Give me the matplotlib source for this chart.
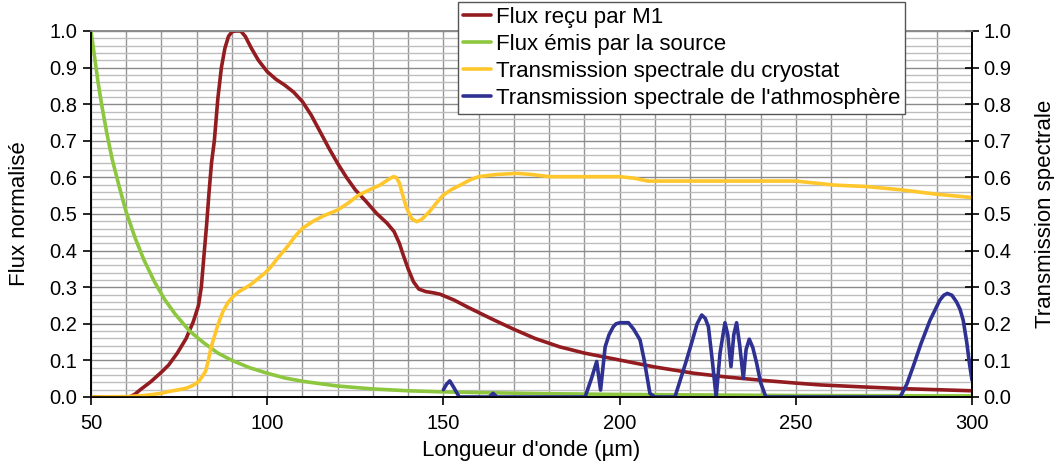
import matplotlib
matplotlib.use('Agg')
import matplotlib.pyplot as plt
from matplotlib.ticker import MultipleLocator

plt.rcParams['font.family'] = ['Liberation Sans', 'DejaVu Sans']

# Flux reçu par M1
red_x = [50, 61, 62.5, 64, 67, 70, 72, 74.5, 77, 79, 80.5, 81.3, 82, 82.8, 83.5, 84.2, 85, 86,
         87, 88, 89, 90, 91, 92.5, 93.8, 95.5, 97.5, 100, 102.5, 105, 107.5, 110, 112.5, 115,
         117.5, 120, 122.5, 125, 128, 131, 134, 136, 137.5, 138.6, 140, 141.5, 143, 145, 147,
         149, 153, 157, 164, 170, 176, 183, 190, 200, 210, 221, 230, 240, 250, 257, 268, 280,
         290, 300]
red_y = [0, 0, 0.008, 0.02, 0.042, 0.068, 0.087, 0.12, 0.16, 0.205, 0.25, 0.3, 0.38, 0.47,
         0.56, 0.64, 0.70, 0.816, 0.9, 0.953, 0.985, 0.998, 1.0, 1.0, 0.985, 0.953, 0.92, 0.889,
         0.868, 0.852, 0.833, 0.807, 0.77, 0.725, 0.68, 0.638, 0.6, 0.566, 0.535, 0.502, 0.475,
         0.452, 0.42, 0.388, 0.35, 0.315, 0.295, 0.288, 0.285, 0.281, 0.265, 0.245, 0.212,
         0.185, 0.16, 0.137, 0.12, 0.101, 0.082, 0.065, 0.055, 0.046, 0.038, 0.033, 0.028,
         0.023, 0.02, 0.017]

# Flux émis par la source
green_x = [50, 51, 52, 53, 54.5, 56, 58, 60, 62.5, 65, 68, 71, 74, 78, 82, 86, 90, 95, 100,
           105, 110, 120, 130, 140, 150, 160, 180, 200, 250, 300]
green_y = [1.0, 0.93, 0.86, 0.8, 0.72, 0.65, 0.575, 0.505, 0.435, 0.375, 0.315, 0.265, 0.225,
           0.18, 0.148, 0.12, 0.10, 0.08, 0.065, 0.052, 0.043, 0.03, 0.022, 0.017, 0.014, 0.012,
           0.009, 0.007, 0.004, 0.003]

# Transmission spectrale du cryostat
yellow_x = [50, 60, 65, 70, 72, 75, 77, 79, 80.5, 81.5, 82.5, 83.3, 84, 85, 86, 87.5, 89, 90.5,
            92, 95, 97.5, 99.5, 101, 103, 105.5, 108, 110, 113, 116, 120, 123, 126, 129, 132,
            134.5, 135.8, 136.6, 137.5, 138.5, 139.6, 141, 142.4, 143.8, 146, 148, 150, 152.5,
            155, 157.5, 160, 165, 171, 175, 180, 200, 204, 208, 228, 250, 255, 261, 270, 280,
            290, 300]
yellow_y = [0, 0.001, 0.004, 0.01, 0.015, 0.02, 0.024, 0.032, 0.042, 0.055, 0.07, 0.1, 0.133,
            0.165, 0.197, 0.235, 0.26, 0.276, 0.288, 0.305, 0.324, 0.34, 0.355, 0.38, 0.408,
            0.44, 0.461, 0.48, 0.495, 0.511, 0.53, 0.552, 0.566, 0.579, 0.595, 0.602, 0.6,
            0.585, 0.55, 0.515, 0.487, 0.479, 0.485, 0.506, 0.53, 0.552, 0.568, 0.58, 0.593,
            0.602, 0.608, 0.611, 0.608, 0.602, 0.602, 0.598, 0.59, 0.59, 0.59, 0.585, 0.579,
            0.575, 0.566, 0.554, 0.545]

# Transmission spectrale de l'athmosphère
blue_x = [150, 150.9, 151.8, 152.7, 154.5, 163, 164.1, 165.2, 190.2, 192, 193.5, 194.6, 195.9,
          197, 198.2, 199, 200.1, 202.5, 204, 205.8, 207, 208.6, 210, 215.7, 219, 220.5, 222,
          223.3, 224.3, 225.2, 226.3, 227.4, 228.5, 229.9, 230.7, 231.6, 232.4, 233.2, 234.1,
          235.1, 235.9, 236.8, 237.8, 238.9, 240, 241.5, 279.6, 281.5, 283.3, 285.5, 288.1,
          290.9, 292, 293, 294.3, 295.6, 296.6, 297.5, 298.5, 299.3, 300]
blue_y = [0.02, 0.035, 0.044, 0.03, 0, 0, 0.01, 0, 0, 0.05, 0.097, 0.019, 0.137, 0.17, 0.192,
          0.2, 0.203, 0.203, 0.185, 0.156, 0.1, 0.01, 0, 0, 0.101, 0.15, 0.2, 0.224, 0.215,
          0.192, 0.1, 0, 0.12, 0.203, 0.17, 0.083, 0.17, 0.203, 0.14, 0.051, 0.13, 0.158,
          0.135, 0.092, 0.04, 0, 0, 0.035, 0.083, 0.145, 0.21, 0.265, 0.278, 0.283, 0.278,
          0.26, 0.24, 0.21, 0.15, 0.09, 0.046]

labels = ['Flux reçu par M1', 'Flux émis par la source',
          'Transmission spectrale du cryostat', "Transmission spectrale de l'athmosphère"]
colors = ['#931c20', '#8dc63f', '#ffc72c', '#2e3192']

fig = plt.figure(figsize=(10.54, 4.63), dpi=100)
ax = fig.add_axes([91 / 1054, 66 / 463, 881 / 1054, 366 / 463])
ax2 = ax.twinx()

ax.set_xlim(50, 300)
ax.set_ylim(0, 1.0)
ax2.set_ylim(0, 1.0)

# grille
ax.xaxis.set_major_locator(MultipleLocator(50))
ax.xaxis.set_minor_locator(MultipleLocator(10))
ax.yaxis.set_major_locator(MultipleLocator(0.1))
ax.yaxis.set_minor_locator(MultipleLocator(0.02))
ax2.yaxis.set_major_locator(MultipleLocator(0.1))
ax.grid(which='minor', axis='y', color='#bdbdbd', lw=1.0)
ax.grid(which='major', axis='y', color='#8a8a8a', lw=1.0)
ax.grid(which='both', axis='x', color='#959595', lw=1.0)
ax.set_axisbelow(True)

lw = 2.6
style = dict(lw=lw, solid_joinstyle='round', solid_capstyle='round')
h1, = ax.plot(red_x, red_y, color=colors[0], label=labels[0], **style)
h2, = ax.plot(green_x, green_y, color=colors[1], label=labels[1], **style)
h3, = ax2.plot(yellow_x, yellow_y, color=colors[2], label=labels[2], **style)
h4, = ax2.plot(blue_x, blue_y, color=colors[3], label=labels[3], **style)

for a in (ax, ax2):
    a.spines['top'].set_color('#8a8a8a')
    a.spines['left'].set_color('black')
    a.spines['bottom'].set_color('black')
    a.spines['right'].set_color('black')
    for s in a.spines.values():
        s.set_linewidth(1.2)

tsize = 14.5
ax.tick_params(axis='x', which='major', direction='out', length=6, width=1.2, labelsize=tsize,
               pad=6)
ax.tick_params(axis='x', which='minor', length=0)
ax.tick_params(axis='y', which='major', direction='out', length=6, width=1.2, labelsize=tsize,
               pad=4)
ax.tick_params(axis='y', which='minor', length=0)
ax2.tick_params(axis='y', which='major', direction='inout', length=10, width=1.2,
                labelsize=tsize, pad=3)
ax2.tick_params(axis='y', which='minor', length=0)

ax.yaxis.set_major_formatter(plt.FuncFormatter(lambda v, p: f'{v:.1f}'))
ax2.yaxis.set_major_formatter(plt.FuncFormatter(lambda v, p: f'{v:.1f}'))

ax.set_xlabel("Longueur d'onde (µm)", fontsize=16, labelpad=5)
ax.set_ylabel('Flux normalisé', fontsize=16, labelpad=14)
ax2.set_ylabel('Transmission spectrale', fontsize=16, labelpad=17)

leg = fig.legend(handles=[h1, h2, h3, h4], loc='upper left',
                 bbox_to_anchor=(458 / 1054, 1 - 2 / 463), fontsize=16, frameon=True,
                 fancybox=False, edgecolor='#555555', framealpha=1, handlelength=1.25,
                 handletextpad=0.25, borderpad=0.22, labelspacing=0.27, borderaxespad=0)
leg.get_frame().set_linewidth(1.0)
for line in leg.get_lines():
    line.set_linewidth(2.6)

fig.savefig('out.png', dpi=100)
